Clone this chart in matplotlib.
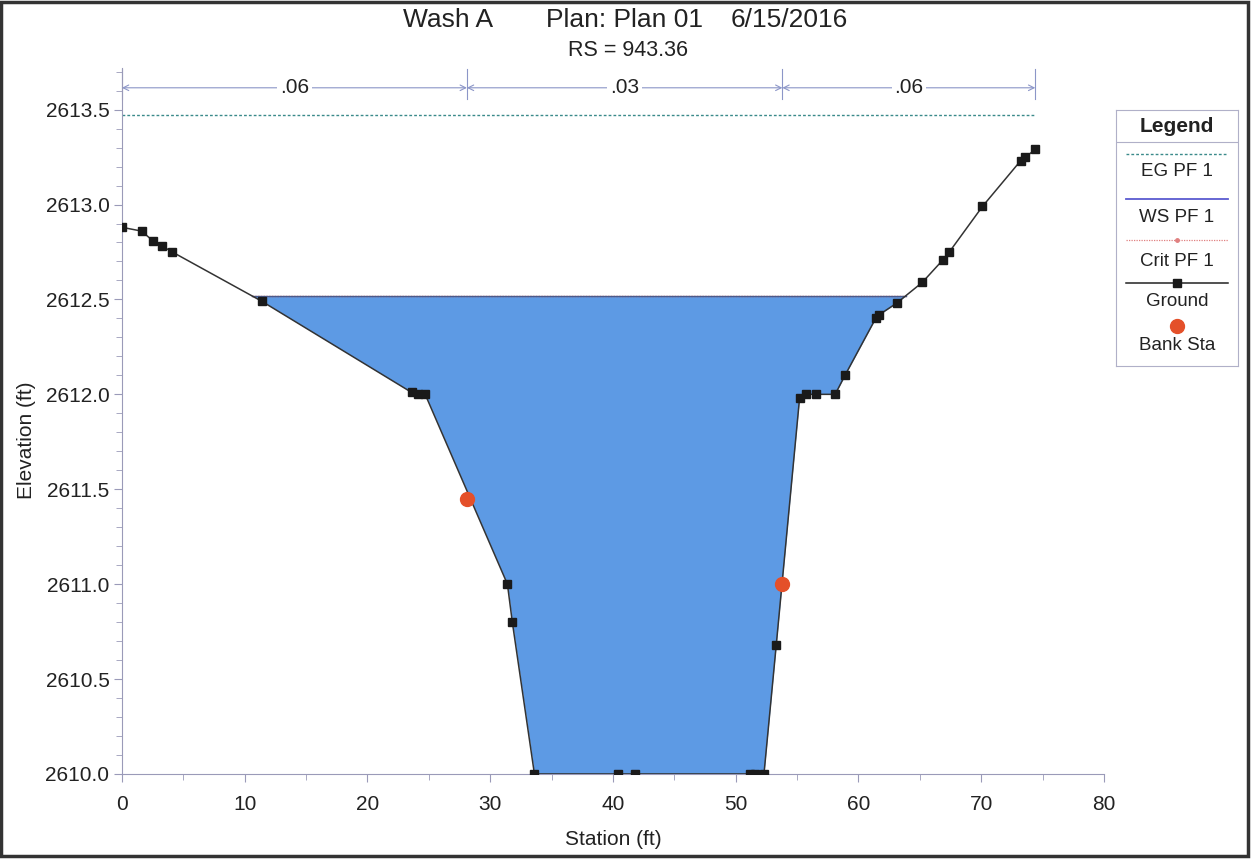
import numpy as np
import matplotlib
matplotlib.use('Agg')
import matplotlib.pyplot as plt
from matplotlib.ticker import MultipleLocator, FormatStrFormatter
from matplotlib.patches import Rectangle

plt.rcParams['font.family'] = ['Liberation Sans', 'DejaVu Sans']

# ground survey points of the cross section
sta = [0.0, 1.6, 2.5, 3.3, 4.1, 11.4, 23.6, 24.1, 24.7, 31.4, 31.8, 33.6,
       40.4, 41.8, 51.2, 51.6, 52.3, 53.3, 55.2, 55.7, 56.5, 58.1, 58.9,
       61.4, 61.7, 63.1, 65.2, 66.9, 67.4, 70.1, 73.2, 73.6, 74.4]
elev = [2612.88, 2612.86, 2612.81, 2612.78, 2612.75, 2612.49, 2612.01, 2612.00,
        2612.00, 2611.00, 2610.80, 2610.00, 2610.00, 2610.00, 2610.00, 2610.00,
        2610.00, 2610.68, 2611.98, 2612.00, 2612.00, 2612.00, 2612.10, 2612.40,
        2612.42, 2612.48, 2612.59, 2612.71, 2612.75, 2612.99, 2613.23, 2613.25,
        2613.29]

bank_sta = [28.1, 53.8]
bank_elev = [2611.45, 2611.00]

ws_elev = 2612.52
eg_elev = 2613.47
crit_elev = 2612.52

# manning n regions
n_bounds = [0.0, 28.1, 53.8, 74.4]
n_vals = ['.06', '.03', '.06']

txt = '#222222'
axc = '#9a9ab8'

fig = plt.figure(figsize=(12.52, 8.59), dpi=100)
ax = fig.add_axes([0.0974, 0.099, 0.7844, 0.822])

# water surface fill between ground and WS
xs = np.linspace(sta[0], sta[-1], 4000)
gz = np.interp(xs, sta, elev)
wet = gz < ws_elev
ax.fill_between(xs, gz, ws_elev, where=wet, color='#5d9ae4', linewidth=0, zorder=1)
xw = xs[wet]
ax.plot([xw[0], xw[-1]], [crit_elev, crit_elev], color='#e05050', lw=1.0, ls=(0, (1, 1)), zorder=2)
ax.plot([xw[0], xw[-1]], [ws_elev, ws_elev], color='#4a5a8a', lw=1.0, zorder=2)

# energy grade line
ax.plot([n_bounds[0], n_bounds[-1]], [eg_elev, eg_elev], color='#3a8a8a', lw=1.0,
        ls=(0, (2, 1.5)), zorder=2)

ax.plot(sta, elev, color='#333333', lw=1.1, marker='s', ms=6, mfc='#1a1a1a',
        mec='#1a1a1a', zorder=3)
ax.plot(bank_sta, bank_elev, 'o', color='#e4502a', ms=10, zorder=4)

# n value annotation strip
yn = 2613.615
lc = '#8c96c8'
for b in n_bounds:
    ax.plot([b, b], [yn - 0.06, yn + 0.1], color=lc, lw=0.8, clip_on=False)
for i, v in enumerate(n_vals):
    a, b = n_bounds[i], n_bounds[i + 1]
    for end in (a, b):
        ax.annotate('', xy=(end, yn), xytext=((a + b) / 2, yn),
                    arrowprops=dict(arrowstyle='->', color=lc, lw=0.8,
                                    shrinkA=0, shrinkB=0), annotation_clip=False)
    ax.text((a + b) / 2, yn, v, ha='center', va='center', fontsize=15, color=txt,
            bbox=dict(facecolor='white', edgecolor='none', pad=2), zorder=5)

ax.set_xlim(0, 80)
ax.set_ylim(2610.0, 2613.72)
ax.xaxis.set_major_locator(MultipleLocator(10))
ax.xaxis.set_minor_locator(MultipleLocator(5))
ax.yaxis.set_major_locator(MultipleLocator(0.5))
ax.yaxis.set_minor_locator(MultipleLocator(0.1))
ax.yaxis.set_major_formatter(FormatStrFormatter('%.1f'))
for s in ['top', 'right']:
    ax.spines[s].set_visible(False)
for s in ['left', 'bottom']:
    ax.spines[s].set_color(axc)
    ax.spines[s].set_linewidth(0.8)
ax.tick_params(which='both', direction='out', color=axc, labelsize=15, labelcolor=txt)
ax.tick_params(which='major', length=6)
ax.tick_params(which='minor', length=4)
ax.tick_params(axis='x', pad=9)
ax.tick_params(axis='y', pad=3)
ax.set_xlabel('Station (ft)', fontsize=15, color=txt)
ax.set_ylabel('Elevation (ft)', fontsize=15, color=txt)
ax.xaxis.set_label_coords(0.5, -0.080)
ax.yaxis.set_label_coords(-0.088, 0.472)

fig.text(448 / 1252, 1 - 20 / 859, 'Wash A', ha='center', va='center', fontsize=19, color=txt)
fig.text(624 / 1252, 1 - 20 / 859, 'Plan: Plan 01', ha='center', va='center', fontsize=19, color=txt)
fig.text(789 / 1252, 1 - 20 / 859, '6/15/2016', ha='center', va='center', fontsize=19, color=txt)
fig.text(628 / 1252, 1 - 50 / 859, 'RS = 943.36', ha='center', va='center', fontsize=15.5, color=txt)

# legend panel
lg = fig.add_axes([1116 / 1252, 1 - 366 / 859, 122 / 1252, 256 / 859])
lg.set_xlim(0, 1)
lg.set_ylim(256, 0)
lg.set_xticks([])
lg.set_yticks([])
for s in lg.spines.values():
    s.set_color('#b0b0c8')
    s.set_linewidth(0.8)
lg.text(0.5, 16, 'Legend', ha='center', va='center', fontsize=15, weight='bold', color=txt)
lg.plot([0, 1], [32, 32], color='#b0b0c8', lw=0.8)
lg.plot([0.08, 0.92], [44, 44], color='#3a8a8a', lw=1.0, ls=(0, (2, 1.5)))
lg.text(0.5, 62, 'EG PF 1', ha='center', va='center', fontsize=13.5, color=txt)
lg.plot([0.08, 0.92], [89, 89], color='#5a5ad0', lw=1.3)
lg.text(0.5, 107, 'WS PF 1', ha='center', va='center', fontsize=13.5, color=txt)
lg.plot([0.08, 0.92], [130, 130], color='#e08080', lw=0.9, ls=(0, (1, 1)))
lg.plot([0.5], [130], 'o', color='#e08080', ms=2.5)
lg.text(0.5, 152, 'Crit PF 1', ha='center', va='center', fontsize=13.5, color=txt)
lg.plot([0.08, 0.92], [173, 173], color=txt, lw=1.1)
lg.plot([0.5], [173], 's', color='#1a1a1a', ms=6)
lg.text(0.5, 192, 'Ground', ha='center', va='center', fontsize=13.5, color=txt)
lg.plot([0.5], [216], 'o', color='#e4502a', ms=10)
lg.text(0.5, 236, 'Bank Sta', ha='center', va='center', fontsize=13.5, color=txt)

# outer frame
fig.patches.append(Rectangle((0.001, 0.003), 0.996, 0.995, transform=fig.transFigure,
                             fill=False, edgecolor='#333333', lw=2.5))

fig.savefig('out.png', dpi=100)
